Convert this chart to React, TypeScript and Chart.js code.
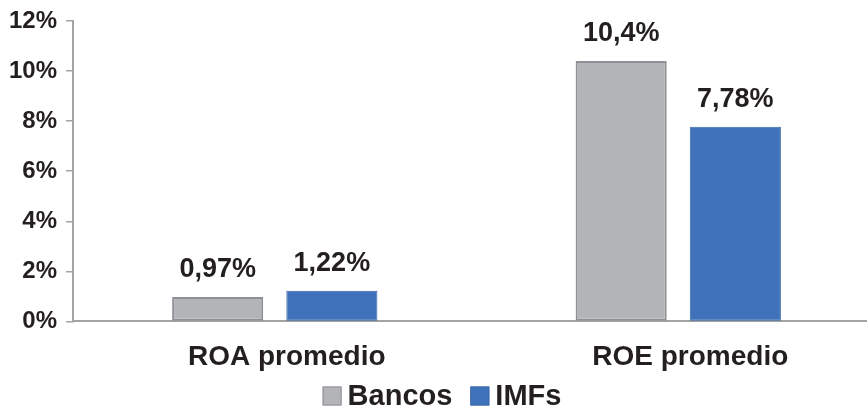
import React, { useEffect, useRef } from "react";
import { Chart, registerables } from "chart.js";

Chart.register(...registerables);

const categories = ["ROA promedio", "ROE promedio"];
const bancos = [0.97, 10.4];
const imfs = [1.22, 7.78];
const bancosLabels = ["0,97%", "10,4%"];
const imfsLabels = ["1,22%", "7,78%"];
const yTicks = [0, 2, 4, 6, 8, 10, 12];

const FONT = "'Liberation Sans', Arial, Helvetica, sans-serif";
const TEXT = "#231f20";

// Percentage labels above each bar
const valueLabels = {
  id: "valueLabels",
  afterDatasetsDraw(chart: any) {
    const ctx = chart.ctx;
    const texts = [bancosLabels, imfsLabels];
    ctx.save();
    ctx.font = `bold 27px ${FONT}`;
    ctx.fillStyle = TEXT;
    ctx.textAlign = "center";
    ctx.textBaseline = "alphabetic";
    chart.data.datasets.forEach((_: any, di: number) => {
      const meta = chart.getDatasetMeta(di);
      meta.data.forEach((bar: any, i: number) => {
        ctx.fillText(texts[di][i], bar.x, bar.y - 20);
      });
    });
    ctx.restore();
  },
};

// Compact legend below the category labels
const bottomLegend = {
  id: "bottomLegend",
  afterDraw(chart: any) {
    const ctx = chart.ctx;
    const box = 19;
    const gapBoxText = 6;
    const gapItems = 18;
    ctx.save();
    ctx.font = `bold 29px ${FONT}`;
    const items = chart.data.datasets.map((ds: any) => ({
      text: ds.label,
      fill: ds.backgroundColor,
      stroke: ds.borderColor,
      w: ctx.measureText(ds.label).width,
    }));
    const total =
      items.reduce((s: number, it: any) => s + box + gapBoxText + it.w, 0) +
      gapItems * (items.length - 1);
    let x = 442 - total / 2;
    const cy = 396;
    ctx.textBaseline = "middle";
    ctx.textAlign = "left";
    items.forEach((it: any) => {
      ctx.fillStyle = it.fill;
      ctx.fillRect(x, cy - box / 2, box, box);
      ctx.strokeStyle = it.stroke;
      ctx.lineWidth = 1;
      ctx.strokeRect(x + 0.5, cy - box / 2 + 0.5, box - 1, box - 1);
      x += box + gapBoxText;
      ctx.fillStyle = TEXT;
      ctx.fillText(it.text, x, cy + 1);
      x += it.w + gapItems;
    });
    ctx.restore();
  },
};

export default function App() {
  const ref = useRef<HTMLCanvasElement | null>(null);

  useEffect(() => {
    if (!ref.current) return;
    const chart = new Chart(ref.current, {
      type: "bar",
      data: {
        labels: categories,
        datasets: [
          {
            label: "Bancos",
            data: bancos,
            backgroundColor: "#b3b4b8",
            borderColor: "#8f9094",
            borderWidth: 2,
            borderSkipped: false,
          },
          {
            label: "IMFs",
            data: imfs,
            backgroundColor: "#3f72ba",
            borderColor: "#3a68a8",
            borderWidth: 1,
            borderSkipped: false,
          },
        ],
      },
      options: {
        animation: false,
        responsive: false,
        maintainAspectRatio: false,
        layout: { padding: { top: 16, right: 1, left: 0, bottom: 23 } },
        datasets: {
          bar: { barPercentage: 0.798, categoryPercentage: 0.566 },
        },
        plugins: {
          legend: { display: false },
          tooltip: { enabled: false },
        },
        scales: {
          x: {
            grid: { display: false },
            border: { color: "#a3a3a3", width: 2 },
            ticks: {
              font: { family: FONT, size: 28, weight: "bold" },
              color: TEXT,
              padding: 11,
              labelOffset: 12,
            },
          },
          y: {
            min: 0,
            max: 12,
            afterBuildTicks(axis: any) {
              axis.ticks = yTicks.map((v) => ({ value: v }));
            },
            grid: {
              display: true,
              drawOnChartArea: false,
              drawTicks: true,
              tickLength: 7,
              color: "#a3a3a3",
              lineWidth: 1.5,
            },
            border: { color: "#a3a3a3", width: 2 },
            ticks: {
              font: { family: FONT, size: 24, weight: "bold", lineHeight: 1 },
              color: TEXT,
              padding: 9,
              callback: (v: any) => `${v}%`,
            },
          },
        },
      },
      plugins: [valueLabels, bottomLegend],
    });
    return () => chart.destroy();
  }, []);

  return (
    <div
      style={{
        position: "fixed",
        left: 0,
        top: 0,
        width: 867,
        height: 408,
        overflow: "hidden",
        background: "#fff",
      }}
    >
      <canvas ref={ref} width={881} height={408} style={{ width: 881, height: 408 }} />
    </div>
  );
}
